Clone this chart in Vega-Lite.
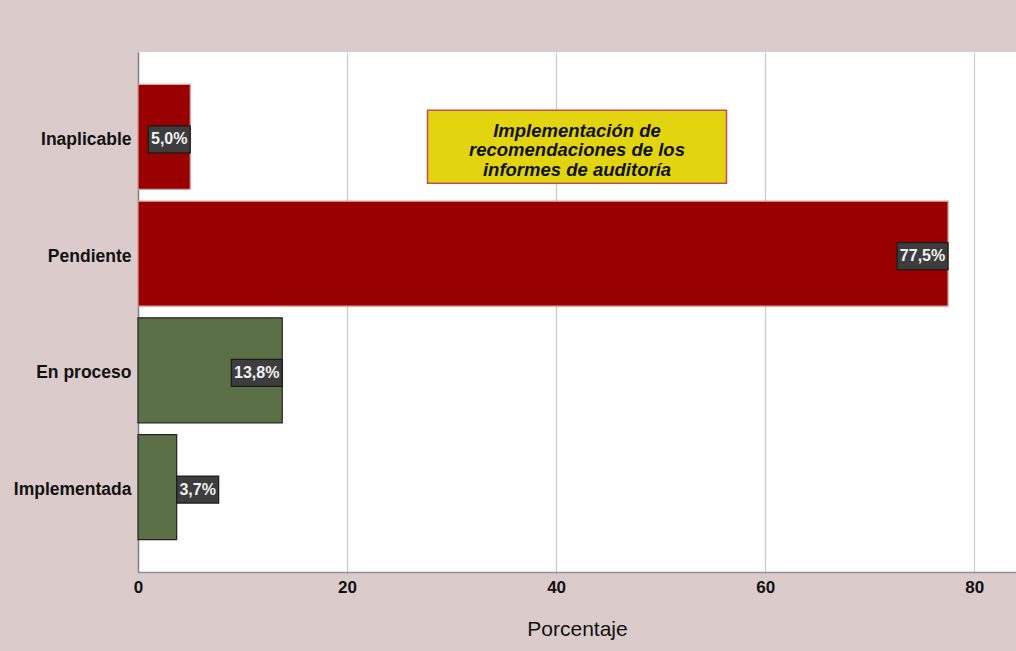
{
  "$schema": "https://vega.github.io/schema/vega-lite/v6.json",
  "autosize": {"type": "none"},
  "padding": {"left": 138, "top": 52, "right": 0, "bottom": 79},
  "width": 878,
  "height": 520,
  "background": "#DCCBCB",
  "config": {
    "font": "Liberation Sans",
    "view": {"fill": "white", "stroke": null}
  },
  "data": {
    "values": [
      {"categoria": "Inaplicable", "porcentaje": 5.0, "etiqueta": "5,0%"},
      {"categoria": "Pendiente", "porcentaje": 77.5, "etiqueta": "77,5%"},
      {"categoria": "En proceso", "porcentaje": 13.8, "etiqueta": "13,8%"},
      {"categoria": "Implementada", "porcentaje": 3.7, "etiqueta": "3,7%"}
    ]
  },
  "encoding": {
    "y": {
      "field": "categoria",
      "type": "nominal",
      "sort": null,
      "scale": {"domain": ["Inaplicable", "Pendiente", "En proceso", "Implementada"], "paddingInner": 0.1, "paddingOuter": 0.278},
      "axis": {
        "title": null,
        "ticks": false,
        "labelFontSize": 17.5,
        "labelFontWeight": "bold",
        "labelColor": "#111111",
        "labelPadding": 7,
        "labelOffset": 3,
        "domainColor": "#808080",
        "domainWidth": 1.5
      }
    },
    "x": {
      "field": "porcentaje",
      "type": "quantitative",
      "scale": {"domain": [0, 84], "nice": false},
      "axis": {
        "values": [0, 20, 40, 60, 80],
        "title": "Porcentaje",
        "titleFontSize": 21,
        "titleFontWeight": "normal",
        "titleColor": "#111111",
        "titlePadding": 23,
        "ticks": false,
        "grid": true,
        "gridColor": "#C8C8C8",
        "gridWidth": 1.2,
        "labelFlush": false,
        "labelFontSize": 17,
        "labelFontWeight": "bold",
        "labelColor": "#111111",
        "labelPadding": 7,
        "domainColor": "#909090",
        "domainWidth": 1.5
      }
    }
  },
  "layer": [
    {
      "mark": {"type": "bar", "strokeWidth": 1.2},
      "encoding": {
        "fill": {
          "field": "categoria",
          "type": "nominal",
          "scale": {"domain": ["Inaplicable", "Pendiente", "En proceso", "Implementada"], "range": ["#990000", "#990000", "#5B7046", "#5B7046"]},
          "legend": null
        },
        "stroke": {
          "field": "categoria",
          "type": "nominal",
          "scale": {"domain": ["Inaplicable", "Pendiente", "En proceso", "Implementada"], "range": ["#DDA0A0", "#DDA0A0", "#222222", "#222222"]},
          "legend": null
        }
      }
    },
    {
      "transform": [{"filter": "datum.porcentaje >= 10"}],
      "mark": {"type": "point", "shape": "M-1,-0.529H1V0.529H-1Z", "size": 2601, "filled": true, "fill": "#3D3D3D", "stroke": "#1A1A1A", "strokeWidth": 1.2, "opacity": 1, "xOffset": -25.5, "yOffset": 2.5}
    },
    {
      "transform": [{"filter": "datum.porcentaje >= 4.5 && datum.porcentaje < 10"}],
      "mark": {"type": "point", "shape": "M-1,-0.643H1V0.643H-1Z", "size": 1764, "filled": true, "fill": "#3D3D3D", "stroke": "#1A1A1A", "strokeWidth": 1.2, "opacity": 1, "xOffset": -21, "yOffset": 2.5}
    },
    {
      "transform": [{"filter": "datum.porcentaje < 4.5"}],
      "mark": {"type": "point", "shape": "M-1,-0.643H1V0.643H-1Z", "size": 1764, "filled": true, "fill": "#3D3D3D", "stroke": "#1A1A1A", "strokeWidth": 1.2, "opacity": 1, "xOffset": 21, "yOffset": 2.5}
    },
    {
      "transform": [{"filter": "datum.porcentaje >= 10"}],
      "mark": {"type": "text", "fontSize": 16, "fontWeight": "bold", "color": "#F2F2F2", "align": "center", "baseline": "middle", "xOffset": -25.5, "yOffset": 2.5},
      "encoding": {"text": {"field": "etiqueta"}}
    },
    {
      "transform": [{"filter": "datum.porcentaje >= 4.5 && datum.porcentaje < 10"}],
      "mark": {"type": "text", "fontSize": 16, "fontWeight": "bold", "color": "#F2F2F2", "align": "center", "baseline": "middle", "xOffset": -21, "yOffset": 2.5},
      "encoding": {"text": {"field": "etiqueta"}}
    },
    {
      "transform": [{"filter": "datum.porcentaje < 4.5"}],
      "mark": {"type": "text", "fontSize": 16, "fontWeight": "bold", "color": "#F2F2F2", "align": "center", "baseline": "middle", "xOffset": 21, "yOffset": 2.5},
      "encoding": {"text": {"field": "etiqueta"}}
    },
    {
      "data": {"values": [{"porcentaje": 42, "categoria": "Inaplicable"}]},
      "mark": {"type": "point", "shape": "M-1,-0.244H1V0.244H-1Z", "size": 89401, "filled": true, "fill": "#E2D40E", "stroke": "#C0504D", "strokeWidth": 1.5, "opacity": 1, "yOffset": 9.7}
    },
    {
      "data": {"values": [{"porcentaje": 42, "categoria": "Inaplicable"}]},
      "mark": {"type": "text", "text": ["Implementación de", "recomendaciones de los", "informes de auditoría"], "fontSize": 18.5, "lineHeight": 19.5, "fontStyle": "italic", "fontWeight": "bold", "color": "#111111", "align": "center", "baseline": "middle", "yOffset": -6}
    }
  ]
}
